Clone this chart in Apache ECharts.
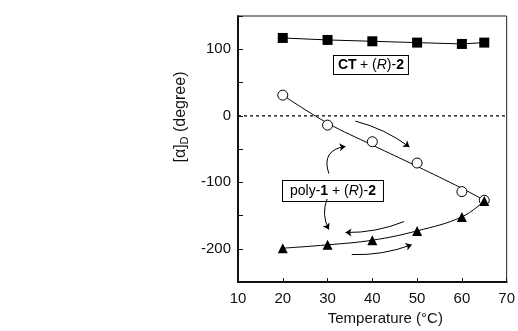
<!DOCTYPE html>
<html>
<head>
<meta charset="utf-8">
<script src="https://cdn.jsdelivr.net/npm/echarts@6/dist/echarts.min.js"></script>
<style>
  html, body { margin: 0; padding: 0; background: #fff; }
  #chart { width: 518px; height: 331px; }
</style>
</head>
<body>
<div id="chart"></div>
<script>
// temperatures (°C)
const temps = [20, 30, 40, 50, 60, 65]
// [α]D of CT + (R)-2
const ctR2 = [117, 114, 112, 110, 108, 110]
// poly-1 + (R)-2, heating (open circles)
const polyHeat = [31, -14, -39, -71, -114, -127]
// poly-1 + (R)-2, cooling (filled triangles)
const polyCool = [-199, -194, -187, -173, -152, -128]
// guide curve drawn through the heating points
const heatCurve = [31, -11, -44, -76, -109, -127]
// curved annotation arrows: [from, to, curveness]
const arrows = [
  [[36.2, -8], [48.3, -47], 0.1],
  [[30.3, -87], [34, -46], 0.6],
  [[29.9, -125], [30.3, -171], -0.23],
  [[47.1, -159], [34, -175.5], 0.1],
  [[35.4, -208.6], [48.8, -193.8], -0.1],
]

const FONT = '"Liberation Sans", Arial, sans-serif'
const pair = (xs, ys) => xs.map((x, i) => [x, ys[i]])

const chart = echarts.init(document.getElementById('chart'), null, { renderer: 'canvas' })

chart.setOption({
  animation: false,
  backgroundColor: '#fff',
  textStyle: { fontFamily: FONT },
  grid: { left: 238, right: 8, top: 16, bottom: 46, show: true, borderColor: '#222', borderWidth: 1 },
  xAxis: {
    type: 'value', min: 10, max: 70, interval: 10,
    name: 'Temperature (°C)', nameLocation: 'middle', nameGap: 28,
    nameTextStyle: { fontSize: 15, color: '#111', fontFamily: FONT, padding: [0, 0, 0, 26] },
    axisLine: { onZero: false, lineStyle: { color: '#111', width: 2 } },
    axisTick: { inside: true, length: 4, lineStyle: { color: '#111' } },
    axisLabel: { fontSize: 15, color: '#111', margin: 9, fontFamily: FONT },
    splitLine: { show: false },
  },
  yAxis: {
    type: 'value', min: -250, max: 150, interval: 50,
    name: '{n|[α]}{s|D}{n| (degree)}', nameLocation: 'middle', nameGap: 30,
    nameTextStyle: {
      padding: [0, 0, 0, 64],
      rich: {
        n: { fontSize: 16, color: '#111', fontFamily: FONT },
        s: { fontSize: 11, color: '#111', fontFamily: FONT, verticalAlign: 'bottom', padding: [7, 0, 0, 0] },
      },
    },
    axisLine: { onZero: false, lineStyle: { color: '#111', width: 2 } },
    axisTick: { inside: true, length: 5, lineStyle: { color: '#111' } },
    axisLabel: {
      fontSize: 15, color: '#111', margin: 7, fontFamily: FONT,
      formatter: (v) => (v % 100 === 0 && v >= -200 && v <= 100 ? String(v) : ''),
    },
    splitLine: { show: false },
  },
  series: [
    {
      // dashed zero line
      type: 'line', data: [[10, 0], [70, 0]], symbol: 'none', silent: true,
      lineStyle: { color: '#000', width: 1.2, type: [3, 3] },
    },
    {
      name: 'CT + (R)-2', type: 'line', data: pair(temps, ctR2),
      symbol: 'rect', symbolSize: 10,
      itemStyle: { color: '#000' }, lineStyle: { color: '#000', width: 1 },
    },
    {
      type: 'line', data: pair(temps, heatCurve), smooth: 0.4, symbol: 'none', silent: true,
      lineStyle: { color: '#000', width: 1 },
    },
    {
      name: 'poly-1 heating', type: 'line', data: pair(temps, polyHeat),
      symbol: 'circle', symbolSize: 10,
      itemStyle: { color: '#fff', borderColor: '#000', borderWidth: 1 },
      lineStyle: { width: 0 },
    },
    {
      name: 'poly-1 cooling', type: 'line', data: pair(temps, polyCool), smooth: 0.4,
      symbol: 'triangle', symbolSize: 10,
      itemStyle: { color: '#000' }, lineStyle: { color: '#000', width: 1 },
    },
    {
      type: 'lines', coordinateSystem: 'cartesian2d', silent: true,
      symbol: ['none', 'arrow'], symbolSize: 6,
      data: arrows.map(([a, b, c]) => ({ coords: [a, b], lineStyle: { curveness: c } })),
      lineStyle: { color: '#000', width: 1, opacity: 1 },
    },
  ],
  graphic: [
    {
      type: 'text', left: 333, top: 55,
      style: {
        text: '{b|CT} {r|+ (}{i|R}{r|)-}{b|2}',
        backgroundColor: '#fff', borderColor: '#000', borderWidth: 1, padding: [2, 4, 2, 4],
        rich: {
          b: { fontSize: 14, fontWeight: 'bold', fontFamily: FONT, fill: '#000' },
          r: { fontSize: 14, fontFamily: FONT, fill: '#000' },
          i: { fontSize: 14, fontStyle: 'italic', fontFamily: FONT, fill: '#000' },
        },
      },
    },
    {
      type: 'text', left: 282, top: 180,
      style: {
        text: '{r|poly-}{b|1}{r| + (}{i|R}{r|)-}{b|2}',
        backgroundColor: '#fff', borderColor: '#000', borderWidth: 1, padding: [3, 7, 3, 7],
        rich: {
          b: { fontSize: 14, fontWeight: 'bold', fontFamily: FONT, fill: '#000' },
          r: { fontSize: 14, fontFamily: FONT, fill: '#000' },
          i: { fontSize: 14, fontStyle: 'italic', fontFamily: FONT, fill: '#000' },
        },
      },
    },
  ],
})
</script>
</body>
</html>
